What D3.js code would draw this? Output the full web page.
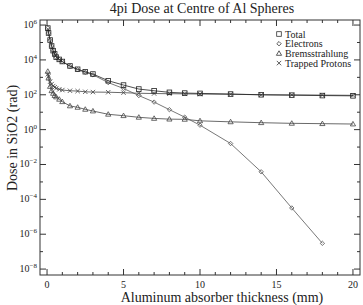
<!DOCTYPE html>
<html><head><meta charset="utf-8">
<script src="https://cdn.jsdelivr.net/npm/d3@7"></script>
<style>body{margin:0;background:#fff}svg{display:block}text{font-family:"Liberation Serif","Times New Roman",serif;fill:#222}</style>
</head><body><svg id="c" width="363" height="305"></svg>
<script>
const thickness = [0.05,0.1,0.2,0.3,0.4,0.5,0.6,0.8,1.0,1.5,2.0,2.5,3.0,4.0,5.0,6.0,7.0,8.0,9.0,10.0,12.0,14.0,16.0,18.0,20.0];
const total = [6.7e5,3.5e5,1.38e5,6.3e4,3.4e4,2.2e4,1.45e4,1.07e4,8.1e3,4.5e3,2.9e3,2.1e3,1.55e3,640,360,213,170,138,125,120,110,100,95,90,87];
const electrons = [6.6e5,3.45e5,1.37e5,6.2e4,3.35e4,2.17e4,1.42e4,1.05e4,7.9e3,4.3e3,2.7e3,1.95e3,1.4e3,500,230,90,38,14,5.2,1.8,0.16,0.0038,3.2e-5,3.0e-7,null];
const brems = [2200,900,300,170,120,90,75,55,40,23,19,14.6,11.7,7.6,6.3,5.1,4.4,4.0,3.9,3.2,2.8,2.5,2.3,2.2,2.1];
const protons = [1500,1170,560,410,315,270,235,205,187,170,163,148,143,140,132,122,118,115,113,110,107,100,98,96,93];
const xTicks = [0,5,10,15,20];
const yTickExps = [6,4,2,0,-2,-4,-6,-8];
const legendNames = ["Total","Electrons","Bremsstrahlung","Trapped Protons"];

const svg = d3.select("#c");
const L=40,R=360,T=20,B=275;
const x = d3.scaleLinear().domain([-0.46,20.46]).range([L,R]);
const y = d3.scaleLog().domain([Math.pow(10,-8.34),Math.pow(10,6.29)]).range([B,T]);

svg.append("text").attr("x",202).attr("y",12.5).attr("text-anchor","middle").style("font-size","14px").text("4pi Dose at Centre of Al Spheres");

const g = svg.append("g");
g.append("rect").attr("x",L).attr("y",T).attr("width",R-L).attr("height",B-T).attr("fill","none").attr("stroke","#333").attr("stroke-width",1);

const tk = g.append("g").attr("stroke","#333").attr("stroke-width",1);
d3.range(0,21,1).forEach(v=>{
  const len = v%5===0?6:3;
  tk.append("line").attr("x1",x(v)).attr("x2",x(v)).attr("y1",B).attr("y2",B-len);
  tk.append("line").attr("x1",x(v)).attr("x2",x(v)).attr("y1",T).attr("y2",T+len);
});
d3.range(-8,7,1).forEach(e=>{
  const len = e%2===0?6:3;
  const yy=y(Math.pow(10,e));
  tk.append("line").attr("x1",L).attr("x2",L+len).attr("y1",yy).attr("y2",yy);
  tk.append("line").attr("x1",R).attr("x2",R-len).attr("y1",yy).attr("y2",yy);
});
xTicks.forEach(v=>{
  g.append("text").attr("x",x(v)).attr("y",287.5).attr("text-anchor","middle").style("font-size","10px").text(v);
});
yTickExps.forEach(e=>{
  const t=g.append("text").attr("x",37).attr("y",y(Math.pow(10,e))+3).attr("text-anchor","end").style("font-size","10px");
  t.append("tspan").text("10");
  t.append("tspan").attr("dy",-4).style("font-size","7px").text(e<0?"\u2212"+(-e):e);
});
svg.append("text").attr("x",222).attr("y",302).attr("text-anchor","middle").style("font-size","14px").text("Aluminum absorber thickness (mm)");
svg.append("text").attr("transform","translate(16.5,138) rotate(-90)").attr("text-anchor","middle").style("font-size","14px").text("Dose in SiO2 (rad)");

const series=[
  {name:legendNames[0],vals:total,m:"square",stroke:"#222"},
  {name:legendNames[1],vals:electrons,m:"diamond",stroke:"#555"},
  {name:legendNames[2],vals:brems,m:"triangle",stroke:"#444"},
  {name:legendNames[3],vals:protons,m:"cross",stroke:"#444"},
];
function marker(sel,m,cx,cy,col){
  if(m==="square") sel.append("rect").attr("x",cx-2.3).attr("y",cy-2.3).attr("width",4.6).attr("height",4.6).attr("fill","none").attr("stroke",col).attr("stroke-width",0.8);
  else if(m==="diamond") sel.append("path").attr("d",`M${cx},${cy-2.2}L${cx+2.2},${cy}L${cx},${cy+2.2}L${cx-2.2},${cy}Z`).attr("fill","none").attr("stroke",col).attr("stroke-width",0.8);
  else if(m==="triangle") sel.append("path").attr("d",`M${cx},${cy-2.6}L${cx+2.6},${cy+1.9}L${cx-2.6},${cy+1.9}Z`).attr("fill","none").attr("stroke",col).attr("stroke-width",0.8);
  else sel.append("path").attr("d",`M${cx-2.2},${cy-2.2}L${cx+2.2},${cy+2.2}M${cx-2.2},${cy+2.2}L${cx+2.2},${cy-2.2}`).attr("stroke",col).attr("stroke-width",0.8);
}
const line=d3.line().defined(d=>d[1]!=null).x(d=>x(d[0])).y(d=>y(d[1]));
series.slice().reverse().forEach(s=>{
  const pts=thickness.map((t,i)=>[t,s.vals[i]]);
  g.append("path").attr("d",line(pts)).attr("fill","none").attr("stroke",s.stroke).attr("stroke-width",0.8);
  const mg=g.append("g");
  pts.filter(p=>p[1]!=null).forEach(p=>marker(mg,s.m,x(p[0]),y(p[1]),s.stroke));
});
const lg=svg.append("g");
series.forEach((s,i)=>{
  const yy=34+i*9.7;
  marker(lg,s.m,279,yy,"#333");
  lg.append("text").attr("x",285).attr("y",yy+3.5).style("font-size","10px").text(s.name);
});
</script></body></html>
